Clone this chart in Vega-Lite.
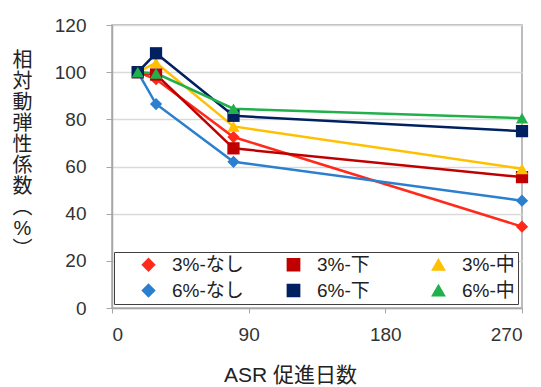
{
  "$schema": "https://vega.github.io/schema/vega-lite/v6.json",
  "width": 410,
  "height": 283,
  "autosize": {"type": "none"},
  "padding": {"left": 112, "top": 25, "right": 19, "bottom": 79},
  "background": "white",
  "config": {
    "font": "Liberation Sans, Noto Sans CJK JP",
    "view": {"stroke": "#a6a6a6", "strokeWidth": 1.5}
  },
  "data": {
    "values": [
      {"series": "3%-なし", "day": 17, "value": 100},
      {"series": "3%-なし", "day": 29, "value": 97},
      {"series": "3%-なし", "day": 80, "value": 72.5},
      {"series": "3%-なし", "day": 270, "value": 34.5},
      {"series": "3%-下", "day": 17, "value": 100},
      {"series": "3%-下", "day": 29, "value": 99},
      {"series": "3%-下", "day": 80, "value": 67.7},
      {"series": "3%-下", "day": 270, "value": 55.5},
      {"series": "3%-中", "day": 17, "value": 100},
      {"series": "3%-中", "day": 29, "value": 104},
      {"series": "3%-中", "day": 80, "value": 77},
      {"series": "3%-中", "day": 270, "value": 59},
      {"series": "6%-なし", "day": 17, "value": 100},
      {"series": "6%-なし", "day": 29, "value": 86.5},
      {"series": "6%-なし", "day": 80, "value": 62},
      {"series": "6%-なし", "day": 270, "value": 45.5},
      {"series": "6%-下", "day": 17, "value": 100},
      {"series": "6%-下", "day": 29, "value": 108},
      {"series": "6%-下", "day": 80, "value": 81.5},
      {"series": "6%-下", "day": 270, "value": 75},
      {"series": "6%-中", "day": 17, "value": 100},
      {"series": "6%-中", "day": 29, "value": 99.5},
      {"series": "6%-中", "day": 80, "value": 84.5},
      {"series": "6%-中", "day": 270, "value": 80.5}
    ]
  },
  "encoding": {
    "x": {
      "field": "day",
      "type": "quantitative",
      "scale": {"domain": [0, 270], "nice": false},
      "axis": {
        "values": [0, 90, 180, 270],
        "grid": false,
        "domainColor": "#a6a6a6",
        "domainWidth": 1.5,
        "tickColor": "#a6a6a6",
        "tickSize": 5,
        "labelFontSize": 19,
        "labelColor": "#333333",
        "labelPadding": 12,
        "title": "ASR 促進日数",
        "titleFontSize": 21,
        "titleFontWeight": "normal",
        "titleColor": "#222222",
        "titleX": 178,
        "titleY": 67,
        "titleAlign": "center",
        "titleBaseline": "middle"
      }
    },
    "y": {
      "field": "value",
      "type": "quantitative",
      "scale": {"domain": [0, 120], "nice": false},
      "axis": {
        "values": [0, 20, 40, 60, 80, 100, 120],
        "gridColor": "#d9d9d9",
        "gridWidth": 1.5,
        "domainColor": "#a6a6a6",
        "domainWidth": 1.5,
        "tickColor": "#a6a6a6",
        "tickSize": 6,
        "labelFontSize": 19,
        "labelColor": "#333333",
        "labelPadding": 20,
        "title": ["相", "対", "動", "弾", "性", "係", "数", "︵", "%", "︶"],
        "titleFontSize": 20,
        "titleFontWeight": "normal",
        "titleColor": "#222222",
        "titleAngle": 0,
        "titleLineHeight": 21,
        "titleX": -90,
        "titleY": 25,
        "titleAlign": "center",
        "titleBaseline": "top"
      }
    },
    "color": {
      "field": "series",
      "type": "nominal",
      "sort": ["3%-なし", "3%-下", "3%-中", "6%-なし", "6%-下", "6%-中"],
      "scale": {
        "domain": ["3%-なし", "3%-下", "3%-中", "6%-なし", "6%-下", "6%-中"],
        "range": ["#ff2a1a", "#c00000", "#ffc000", "#2a7fcf", "#002060", "#22b04c"]
      },
      "legend": {
        "title": null,
        "orient": "none",
        "legendX": 2,
        "legendY": 227,
        "columns": 3,
        "direction": "horizontal",
        "gridAlign": "all",
        "padding": 3,
        "rowPadding": 6,
        "columnPadding": 18,
        "symbolSize": 150,
        "symbolOffset": 22,
        "symbolOpacity": 1,
        "labelOffset": 14,
        "labelFontSize": 19,
        "labelColor": "#222222",
        "fillColor": "white",
        "strokeColor": "#404040"
      }
    },
    "order": {"field": "day", "type": "quantitative"}
  },
  "layer": [
    {
      "mark": {"type": "line", "strokeWidth": 2.5}
    },
    {
      "mark": {"type": "point", "filled": true, "opacity": 1},
      "encoding": {
        "shape": {
          "field": "series",
          "type": "nominal",
          "scale": {
            "domain": ["3%-なし", "3%-下", "3%-中", "6%-なし", "6%-下", "6%-中"],
            "range": ["diamond", "square", "triangle-up", "diamond", "square", "triangle-up"]
          },
          "legend": null
        },
        "size": {
          "field": "series",
          "type": "nominal",
          "scale": {
            "domain": ["3%-なし", "3%-下", "3%-中", "6%-なし", "6%-下", "6%-中"],
            "range": [150, 150, 170, 150, 150, 170]
          },
          "legend": null
        }
      }
    }
  ]
}
